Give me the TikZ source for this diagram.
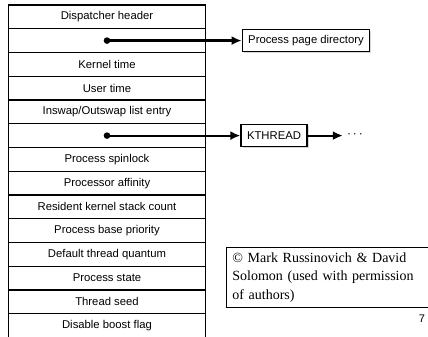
\documentclass[tikz,border=0pt]{standalone}
\usepackage{xcolor}
\usepackage{fontspec}
\setmainfont{Liberation Serif}
\setsansfont{Liberation Sans}
\usepackage{tikz}
\usetikzlibrary{arrows.meta,shadows}

\tikzset{
  field/.style={draw, line width=1.2pt, minimum width=197.5pt, minimum height=23.75pt,
    inner sep=0pt, font=\sffamily\fontsize{11.3}{13}\selectfont},
  ptrbox/.style={draw, line width=1.2pt, fill=white, minimum height=22pt, inner xsep=6pt,
    font=\sffamily\fontsize{11.3}{13}\selectfont,
    drop shadow={shadow xshift=1.5pt, shadow yshift=-1.5pt, fill=black!30}},
  ptr/.style={line width=2.2pt, -{Latex[length=10pt,width=9pt]}}
}

\begin{document}
\begin{tikzpicture}[x=1pt,y=-1pt]
\useasboundingbox (0,0) rectangle (428,337);
% EPROCESS block
\node [field] (disp)     at (107,16.9)  {Dispatcher header};
\node [field] (pgdir)    at (107,40.6)  {};
\node [field] (ktime)    at (107,64.4)  {Kernel time};
\node [field] (utime)    at (107,88.1)  {User time};
\node [field] (swap)     at (107,111.9) {Inswap/Outswap list entry};
\node [field] (thlist)   at (107,135.6) {};
\node [field] (spin)     at (107,159.4) {Process spinlock};
\node [field] (affin)    at (107,183.1) {Processor affinity};
\node [field] (stack)    at (107,206.9) {Resident kernel stack count};
\node [field] (basepri)  at (107,230.6) {Process base priority};
\node [field] (quantum)  at (107,254.4) {Default thread quantum};
\node [field] (state)    at (107,278.1) {Process state};
\node [field] (seed)     at (107,301.9) {Thread seed};
\node [field] (boost)    at (107,325.6) {Disable boost flag};

% pointers
\node [ptrbox] (ppd)     at (306,40.6)  {Process page directory};
\node [ptrbox] (kthread) at (274,135.6) {KTHREAD};
\node [font=\sffamily\fontsize{12}{13}\selectfont, inner sep=0pt] (more) at (355,135.6) {·\,·\,·};
\fill (pgdir.center) circle (3.3);
\fill (thlist.center) circle (3.3);
\draw [ptr] (pgdir.center) -- (ppd.west);
\draw [ptr] (thlist.center) -- (kthread.west);
\draw [ptr] (kthread.east) -- ([xshift=-4pt]more.west);

% credit
\node [draw, line width=0.8pt, anchor=north west, align=left, inner xsep=6pt, inner ysep=5pt,
  text width=240pt, minimum height=58pt, font=\fontsize{14}{18.5}\selectfont]
  (credit) at (226,247) {© Mark Russinovich \& David\\Solomon (used with permission\\of authors)};
\node [font=\sffamily\fontsize{11}{13}\selectfont] (page) at (422,319) {7};
\end{tikzpicture}
\end{document}
